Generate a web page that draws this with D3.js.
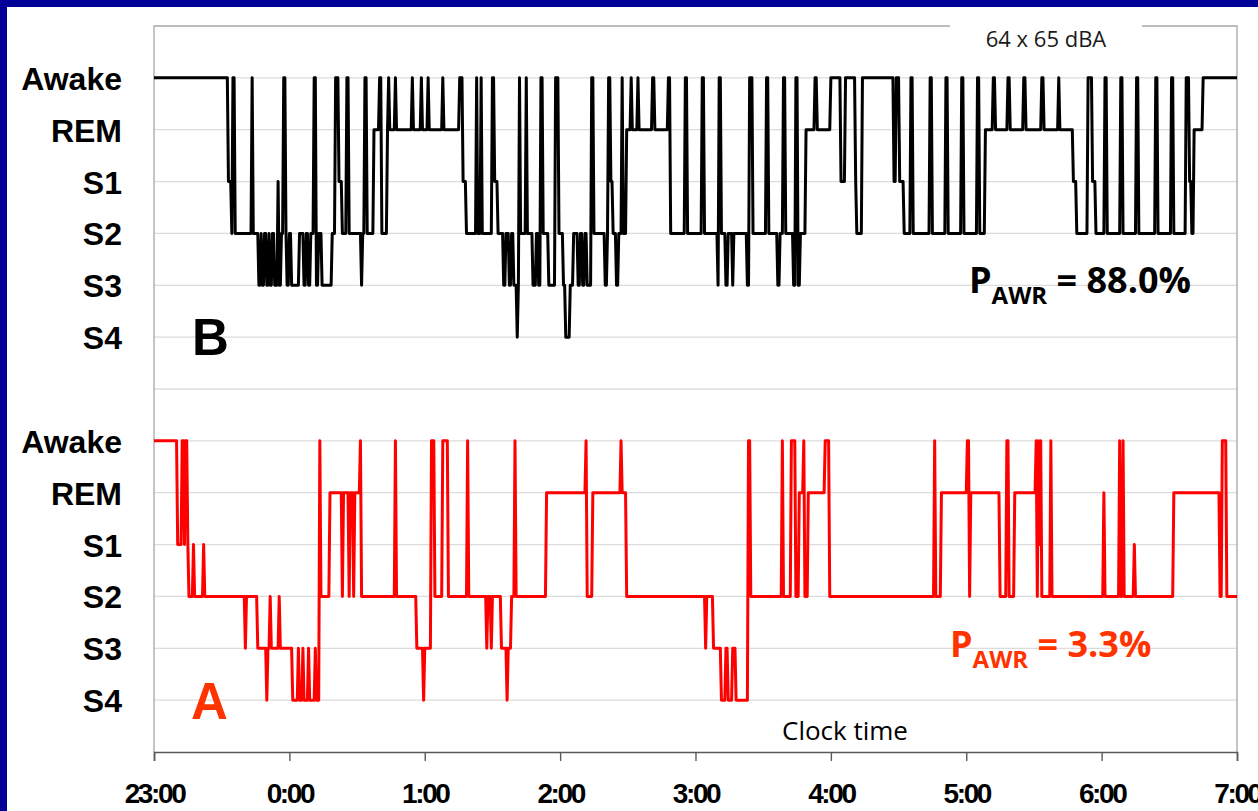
<!DOCTYPE html>
<html>
<head>
<meta charset="utf-8">
<script src="https://cdn.jsdelivr.net/npm/d3@7"></script>
<style>
  html, body { margin: 0; padding: 0; background: #000099; }
  svg { display: block; }
</style>
</head>
<body>
<svg id="chart" width="1258" height="811"></svg>
<script>
// Sleep stage names, from shallow (depth 0) to deep (depth 5)
const stageNames = ["Awake", "REM", "S1", "S2", "S3", "S4"];
// Hour tick labels, one per hour from 23:00 to 7:00
const hourLabels = ["23:00", "0:00", "1:00", "2:00", "3:00", "4:00", "5:00", "6:00", "7:00"];
const nightMinutes = 480;
const epochMinutes = 0.5; // 30-second scoring epochs

// Night B (64 x 65 dBA): minutes after 23:00 where the stage changes, and the new stage depth
const timesB = [0, 33, 34.5, 35, 36, 43.5, 44, 46.5, 47.5, 48, 49, 50, 51, 51.5, 52.5, 53.5, 55, 55.5, 56.5, 57.5,
  58.5, 59, 60, 61, 64.5, 66.5, 67.5, 68.5, 69.5, 71, 72, 73, 74.5, 79, 80.5, 82, 83.5, 85.5, 86.5, 92,
  92.5, 93.5, 94.5, 97.5, 100, 101, 103.5, 104, 104.5, 107, 107.5, 114.5, 115, 118.5, 119, 121.5, 122, 128, 128.5, 135.5,
  137, 138.5, 143, 143.5, 145, 145.5, 150, 151, 152.5, 155, 156, 157.5, 158.5, 159.5, 161, 161.5, 162, 162.5, 165, 165.5,
  168, 169.5, 170.5, 171.5, 172.5, 175, 178, 179.5, 181.5, 182.5, 184.5, 186, 188, 189, 190, 191, 192, 194, 195, 200,
  201, 201.5, 202.5, 203.5, 205, 206, 207.5, 208, 209.5, 211.5, 212, 214.5, 215, 221, 222, 228, 229, 235.5, 236.5, 243,
  244, 250, 250.5, 251.5, 253.5, 254.5, 256.5, 257, 263, 264, 265.5, 271.5, 272.5, 276.5, 277.5, 279, 280, 283.5, 284.5, 285.5,
  286.5, 289, 293, 294, 300, 304.5, 306.5, 311, 311.5, 314, 328, 329, 330.5, 332.5, 335.5, 336.5, 344, 345, 351, 352,
  358, 359, 365, 366, 368.5, 372, 373, 378.5, 379.5, 385.5, 386.5, 393.5, 394.5, 401, 401.5, 407.5, 409, 414, 416, 417.5,
  421.5, 422.5, 428.5, 429.5, 435.5, 436.5, 444, 445, 451, 452, 457.5, 459, 460, 461, 465];
const stagesB = [0, 2, 3, 0, 3, 0, 3, 4, 3, 4, 3, 4, 3, 4, 3, 4, 2, 4, 3, 0,
  3, 4, 3, 4, 3, 4, 3, 4, 3, 0, 4, 3, 4, 3, 0, 2, 3, 0, 3, 4,
  3, 0, 3, 1, 0, 3, 1, 0, 1, 0, 1, 0, 1, 0, 1, 0, 1, 0, 1, 0,
  2, 3, 0, 3, 0, 3, 0, 2, 3, 4, 3, 4, 3, 4, 5, 4, 0, 3, 0, 3,
  4, 3, 4, 0, 3, 4, 0, 3, 4, 5, 4, 3, 4, 3, 4, 3, 4, 0, 3, 4,
  3, 0, 2, 3, 4, 3, 0, 3, 1, 0, 1, 0, 1, 0, 1, 0, 3, 0, 3, 0,
  3, 4, 0, 3, 4, 3, 4, 3, 4, 0, 3, 0, 3, 4, 3, 0, 3, 4, 0, 4,
  3, 1, 0, 1, 0, 2, 0, 2, 3, 0, 2, 0, 2, 3, 0, 3, 0, 3, 0, 3,
  0, 3, 0, 3, 1, 0, 1, 0, 1, 0, 1, 0, 1, 0, 1, 2, 3, 0, 2, 3,
  0, 3, 0, 3, 0, 3, 0, 3, 0, 3, 0, 2, 3, 1, 0];

// Night A (quiet): minutes after 23:00 where the stage changes, and the new stage depth
const timesA = [0, 10.5, 12.5, 13.5, 14, 15, 15.5, 17.5, 18, 22, 22.5, 40.5, 41, 46, 50, 50.5, 51.5, 52, 55.5, 56,
  61.5, 64, 64.5, 66, 66.5, 68.5, 69, 71.5, 72, 73.5, 74, 78, 83.5, 84, 86.5, 87, 88.5, 89, 91.5, 92,
  107, 107.5, 116.5, 119.5, 120, 123, 124.5, 128, 130.5, 139, 139.5, 147.5, 148, 149.5, 150, 154, 156.5, 157, 158.5, 160,
  160.5, 174, 191.5, 192, 194.5, 207, 207.5, 209.5, 244.5, 245, 248, 251.5, 253.5, 254.5, 256.5, 258, 263.5, 264.5, 278.5, 279,
  282.5, 284.5, 286, 288, 288.5, 290, 297.5, 299.5, 346, 346.5, 349, 360.5, 361.5, 362, 375, 378, 379, 381.5, 391, 391.5,
  392, 392.5, 393, 393.5, 397.5, 398, 421, 421.5, 428, 428.5, 429.5, 430, 434.5, 435, 452, 472.5, 473.5, 475.5];
const stagesA = [0, 2, 0, 2, 0, 2, 3, 2, 3, 2, 3, 4, 3, 4, 5, 4, 3, 4, 3, 4,
  5, 4, 5, 4, 5, 4, 5, 4, 5, 0, 3, 1, 3, 1, 3, 1, 3, 1, 0, 3,
  0, 3, 4, 5, 4, 0, 3, 0, 3, 0, 3, 4, 3, 4, 3, 4, 5, 4, 3, 0,
  3, 1, 0, 3, 1, 0, 1, 3, 4, 3, 4, 5, 4, 5, 4, 5, 0, 3, 0, 3,
  0, 3, 1, 0, 3, 1, 0, 3, 0, 3, 1, 0, 3, 1, 3, 0, 3, 1, 0, 3,
  0, 2, 0, 3, 0, 3, 1, 3, 0, 3, 0, 3, 2, 3, 1, 3, 0, 3];

const svg = d3.select("#chart");

// White slide area inside the navy frame
svg.append("rect").attr("x", 7).attr("y", 7).attr("width", 1251).attr("height", 804).attr("fill", "#ffffff");

const plot = { left: 154, right: 1237, top: 26, bottom: 752 };

const x = d3.scaleLinear().domain([0, nightMinutes]).range([plot.left, plot.right]);
// One shared vertical scale: night B occupies levels 8-13, night A levels 1-6
const y = d3.scaleLinear().domain([0, 14]).range([plot.bottom, plot.top]);
const levelB = depth => 13 - depth;
const levelA = depth => 6 - depth;

// Horizontal gridlines
svg.append("g")
  .selectAll("line")
  .data(d3.range(1, 14))
  .join("line")
  .attr("x1", plot.left).attr("x2", plot.right)
  .attr("y1", d => y(d)).attr("y2", d => y(d))
  .attr("stroke", "#dcdcdc").attr("stroke-width", 1.3);

// Plot frame: top, left and right edges
const frame = svg.append("g").attr("stroke", "#a6a6a6").attr("stroke-width", 1.3).attr("fill", "none");
frame.append("path").attr("d", `M${plot.left},${plot.bottom}V${plot.top}H${plot.right}V${plot.bottom}`);

// Stage labels on the left
const yLevels = [13, 12, 11, 10, 9, 8, 6, 5, 4, 3, 2, 1];
const yAxis = svg.append("g")
  .attr("transform", `translate(${plot.left},0)`)
  .call(d3.axisLeft(y)
    .tickValues(yLevels)
    .tickSize(0)
    .tickPadding(32)
    .tickFormat(v => stageNames[v > 7 ? 13 - v : 6 - v]));
yAxis.select(".domain").remove();
yAxis.selectAll("text")
  .attr("dy", "0.36em")
  .attr("fill", "#000")
  .style("font-family", "'Liberation Sans', Arial, sans-serif")
  .style("font-weight", "bold")
  .style("font-size", "32px");

// Clock-time axis along the bottom
const xAxis = svg.append("g")
  .attr("transform", `translate(0,${plot.bottom})`)
  .call(d3.axisBottom(x)
    .tickValues(d3.range(0, nightMinutes + 1, 60))
    .tickSize(9)
    .tickFormat((d, i) => hourLabels[i]));
xAxis.select(".domain").attr("stroke", "#595959").attr("stroke-width", 1.6);
xAxis.selectAll(".tick line").attr("stroke", "#595959").attr("stroke-width", 1.4);
xAxis.selectAll("text")
  .attr("y", 51).attr("dy", 0)
  .attr("fill", "#000")
  .style("font-family", "'Liberation Sans', Arial, sans-serif")
  .style("font-weight", "bold")
  .style("font-size", "28px")
  .style("letter-spacing", "-2.4px");

// Hypnogram traces: one vertex per scored epoch at the start and end of each
// stage run, joined by straight segments like an epoch-by-epoch line chart
function hypnogram(times, stages, toLevel) {
  const pts = [];
  times.forEach((t, i) => {
    const end = i + 1 < times.length ? times[i + 1] - epochMinutes : nightMinutes;
    const lv = toLevel(stages[i]);
    pts.push([t, lv]);
    if (end > t) pts.push([end, lv]);
  });
  return d3.line()
    .x(d => x(d[0]))
    .y(d => y(d[1]))(pts);
}

svg.append("path")
  .attr("d", hypnogram(timesB, stagesB, levelB))
  .attr("fill", "none").attr("stroke", "#000000").attr("stroke-width", 3)
  .attr("stroke-linejoin", "round");

svg.append("path")
  .attr("d", hypnogram(timesA, stagesA, levelA))
  .attr("fill", "none").attr("stroke", "#ff0000").attr("stroke-width", 3)
  .attr("stroke-linejoin", "round");

// Noise-level caption sitting on the top edge of the frame
svg.append("rect").attr("x", 950).attr("y", 18).attr("width", 192).attr("height", 38).attr("fill", "#ffffff");
svg.append("text")
  .attr("x", 1046).attr("y", 47)
  .attr("text-anchor", "middle")
  .style("font-family", "'Open Sans', sans-serif")
  .style("font-size", "22px")
  .attr("fill", "#1a1a1a")
  .text("64 x 65 dBA");

// Panel letters
svg.append("text")
  .attr("x", 192).attr("y", 355)
  .style("font-family", "'Liberation Sans', Arial, sans-serif")
  .style("font-weight", "bold").style("font-size", "51px")
  .attr("fill", "#000").text("B");
svg.append("text")
  .attr("x", 191).attr("y", 719)
  .style("font-family", "'Liberation Sans', Arial, sans-serif")
  .style("font-weight", "bold").style("font-size", "51px")
  .attr("fill", "#ff3300").text("A");

// P_AWR annotations
function pawr(xPos, yPos, value, color) {
  const t = svg.append("text")
    .attr("x", xPos).attr("y", yPos)
    .style("font-family", "'Open Sans', sans-serif")
    .style("font-weight", "bold")
    .style("font-size", "36px")
    .attr("fill", color);
  t.append("tspan").text("P");
  t.append("tspan").attr("dy", 11).style("font-size", "24px").text("AWR");
  t.append("tspan").attr("dy", -11).text(" = " + value);
}
pawr(969, 293, "88.0%", "#000000");
pawr(950, 657, "3.3%", "#ff3300");

// Axis title
svg.append("text")
  .attr("x", 782).attr("y", 740)
  .style("font-family", "'Open Sans', sans-serif")
  .style("font-size", "26px")
  .attr("fill", "#000")
  .text("Clock time");
</script>
</body>
</html>
